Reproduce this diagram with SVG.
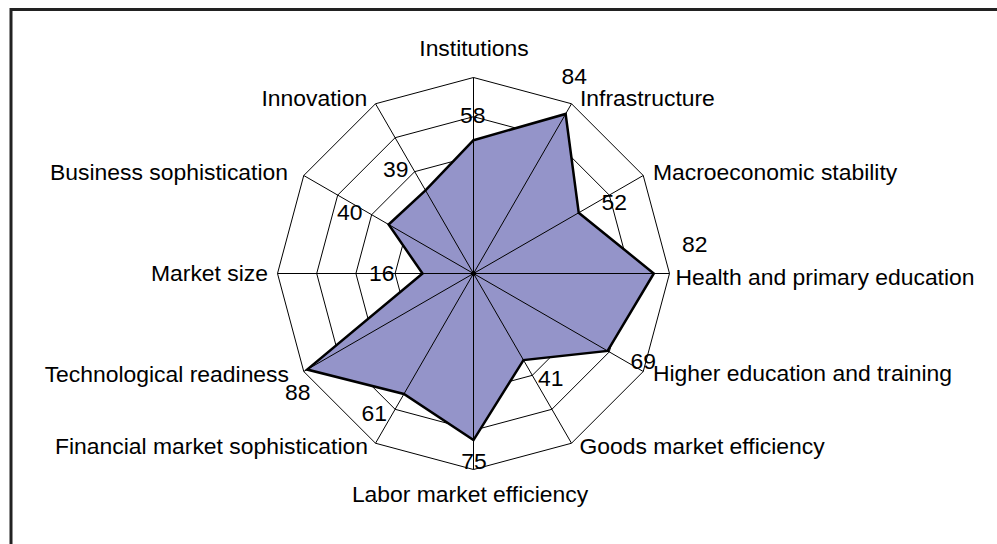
<svg xmlns="http://www.w3.org/2000/svg" width="997" height="544" viewBox="0 0 997 544">
<style>
text{font-family:"Liberation Sans",Arial,sans-serif;font-size:22.9px;fill:#000}
.ring{fill:none;stroke:#000;stroke-width:1}
.spoke{stroke:#000;stroke-width:1}
.area{fill:#9494C9;stroke:none}
.outline{fill:none;stroke:#000;stroke-width:2.5;stroke-linejoin:miter}
.s{text-anchor:start}.m{text-anchor:middle}.e{text-anchor:end}
</style>
<rect x="0" y="0" width="997" height="544" fill="#fff"/>
<rect x="11" y="9.5" width="1100" height="700" fill="#fff" stroke="#222" stroke-width="3"/>
<g id="grid">
<polygon class="ring" points="473.5,77.5 571.5,103.76 643.24,175.5 669.5,273.5 643.24,371.5 571.5,443.24 473.5,469.5 375.5,443.24 303.76,371.5 277.5,273.5 303.76,175.5 375.5,103.76"/>
<polygon class="ring" points="473.5,116.7 551.9,137.71 609.29,195.1 630.3,273.5 609.29,351.9 551.9,409.29 473.5,430.3 395.1,409.29 337.71,351.9 316.7,273.5 337.71,195.1 395.1,137.71"/>
<polygon class="ring" points="473.5,155.9 532.3,171.66 575.34,214.7 591.1,273.5 575.34,332.3 532.3,375.34 473.5,391.1 414.7,375.34 371.66,332.3 355.9,273.5 371.66,214.7 414.7,171.66"/>
<polygon class="ring" points="473.5,195.1 512.7,205.6 541.4,234.3 551.9,273.5 541.4,312.7 512.7,341.4 473.5,351.9 434.3,341.4 405.6,312.7 395.1,273.5 405.6,234.3 434.3,205.6"/>
<polygon class="ring" points="473.5,234.3 493.1,239.55 507.45,253.9 512.7,273.5 507.45,293.1 493.1,307.45 473.5,312.7 453.9,307.45 439.55,293.1 434.3,273.5 439.55,253.9 453.9,239.55"/>
</g>
<g id="series-area">
<polygon class="area" points="473.5,140.22 565.62,113.94 578.74,212.74 653.82,273.5 607.6,350.92 523.48,360.07 473.5,440.1 403.92,394.02 307.15,369.54 422.54,273.5 388.63,224.5 425.48,190.33"/>
</g>
<g id="connectors">
<line class="spoke" x1="473.5" y1="273.5" x2="473.5" y2="77.5"/>
<line class="spoke" x1="473.5" y1="273.5" x2="571.5" y2="103.76"/>
<line class="spoke" x1="473.5" y1="273.5" x2="643.24" y2="175.5"/>
<line class="spoke" x1="473.5" y1="273.5" x2="669.5" y2="273.5"/>
<line class="spoke" x1="473.5" y1="273.5" x2="643.24" y2="371.5"/>
<line class="spoke" x1="473.5" y1="273.5" x2="571.5" y2="443.24"/>
<line class="spoke" x1="473.5" y1="273.5" x2="473.5" y2="469.5"/>
<line class="spoke" x1="473.5" y1="273.5" x2="375.5" y2="443.24"/>
<line class="spoke" x1="473.5" y1="273.5" x2="303.76" y2="371.5"/>
<line class="spoke" x1="473.5" y1="273.5" x2="277.5" y2="273.5"/>
<line class="spoke" x1="473.5" y1="273.5" x2="303.76" y2="175.5"/>
<line class="spoke" x1="473.5" y1="273.5" x2="375.5" y2="103.76"/>
<polygon class="outline" points="473.5,140.22 565.62,113.94 578.74,212.74 653.82,273.5 607.6,350.92 523.48,360.07 473.5,440.1 403.92,394.02 307.15,369.54 422.54,273.5 388.63,224.5 425.48,190.33"/>
<circle cx="473.5" cy="273.5" r="2.5" fill="#000"/>
</g>
<g id="institutions"><text class="m" x="474" y="56">Institutions</text><text class="s" x="460" y="122.5">58</text></g>
<g id="infrastructure"><text class="s" x="580" y="106">Infrastructure</text><text class="s" x="561.5" y="83.5">84</text></g>
<g id="macroeconomic-stability"><text class="s" x="653" y="179.5">Macroeconomic stability</text><text class="s" x="601.5" y="210">52</text></g>
<g id="health-primary-education"><text class="s" x="675.5" y="285">Health and primary education</text><text class="s" x="682" y="252">82</text></g>
<g id="higher-education-training"><text class="s" x="653" y="381">Higher education and training</text><text class="s" x="630.5" y="368.5">69</text></g>
<g id="goods-market-efficiency"><text class="s" x="579.5" y="454">Goods market efficiency</text><text class="s" x="538" y="386">41</text></g>
<g id="labor-market-efficiency"><text class="m" x="470" y="502">Labor market efficiency</text><text class="m" x="474" y="469">75</text></g>
<g id="financial-market-sophistication"><text class="e" x="368" y="453.5">Financial market sophistication</text><text class="s" x="361.5" y="421">61</text></g>
<g id="technological-readiness"><text class="e" x="289" y="381.5">Technological readiness</text><text class="s" x="285" y="399.5">88</text></g>
<g id="market-size"><text class="e" x="268" y="280.5">Market size</text><text class="s" x="369" y="280.5">16</text></g>
<g id="business-sophistication"><text class="e" x="288" y="179.5">Business sophistication</text><text class="s" x="337" y="220">40</text></g>
<g id="innovation"><text class="s" x="261.5" y="106">Innovation</text><text class="s" x="383" y="177">39</text></g>
</svg>
